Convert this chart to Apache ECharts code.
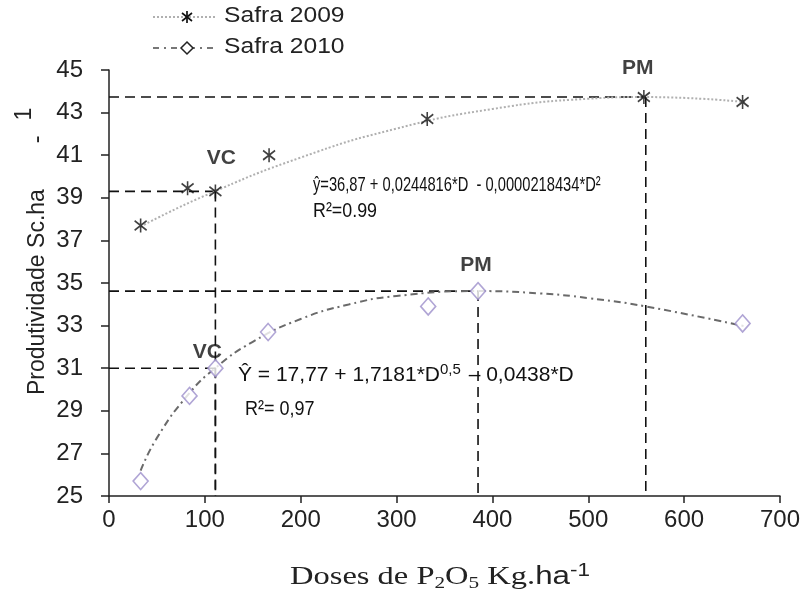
<!DOCTYPE html>
<html><head><meta charset="utf-8">
<script src="https://cdn.jsdelivr.net/npm/echarts@6/dist/echarts.min.js"></script>
<style>html,body{margin:0;padding:0;background:#fff}#c{width:803px;height:594px}</style>
</head><body><div id="c"></div>
<script>
var doses2009 = [33, 82, 111, 167, 332, 558, 661];
var safra2009 = [37.7, 39.45, 39.3, 41.0, 42.7, 43.73, 43.5];
var doses2010 = [33, 84, 111, 166, 333, 385, 661];
var safra2010 = [25.7, 29.7, 31.0, 32.7, 33.9, 34.62, 33.1];
// Fitted curves
var trendX2009 = [33, 100, 200, 300, 400, 500, 560, 665];
var trendY2009 = [37.65, 39.10, 40.89, 42.25, 43.17, 43.65, 43.73, 43.49];
var trendX2010 = [33, 50, 83, 111, 150, 200, 250, 300, 385, 450, 500, 560, 665];
var trendY2010 = [26.19, 27.73, 29.78, 31.01, 32.24, 33.31, 33.99, 34.39, 34.62, 34.51, 34.29, 33.90, 32.95];
// Reference points (PM = maximum, VC = critical level)
var pm2009 = [560, 43.73];
var vc2009 = [111, 39.3];
var pm2010 = [385, 34.62];
var vc2010 = [111, 31.0];
var xTicks = [0, 100, 200, 300, 400, 500, 600, 700];
var yTicks = [25, 27, 29, 31, 33, 35, 37, 39, 41, 43, 45];
var legendNames = ['Safra 2009', 'Safra 2010'];

function zip(a, b) { return a.map(function (v, i) { return [v, b[i]]; }); }
var yMin = yTicks[0];
function refLines(p) {
  return [
    { type: 'line', data: [[0, p[1]], [p[0], p[1]]], symbol: 'none', silent: true,
      lineStyle: { color: '#111', width: 1.6, type: [10, 6] }, z: 1 },
    { type: 'line', data: [[p[0], p[1]], [p[0], yMin]], symbol: 'none', silent: true,
      lineStyle: { color: '#111', width: 1.6, type: [10, 6] }, z: 1 }
  ];
}
var star = 'path://M0,-6L0,6M-5,-4L5,4M-5,4L5,-4';
var series = [];
series = series.concat(refLines(pm2009), refLines(vc2009), refLines(pm2010), refLines(vc2010));
series.push({ type: 'line', data: zip(trendX2009, trendY2009), smooth: true, symbol: 'none',
  lineStyle: { color: '#b0b0b0', width: 2, type: [2, 2] }, z: 2 });
series.push({ type: 'line', data: zip(trendX2010, trendY2010), smooth: true, symbol: 'none',
  lineStyle: { color: '#6a6a6a', width: 2, type: [7, 4, 2, 4] }, z: 2 });
series.push({ type: 'scatter', name: legendNames[0], data: zip(doses2009, safra2009), symbol: star,
  symbolSize: [12, 14], itemStyle: { color: 'none', borderColor: '#111', borderWidth: 1.7 }, z: 5 });
series.push({ type: 'scatter', name: legendNames[1], data: zip(doses2010, safra2010), symbol: 'diamond',
  symbolSize: [15, 17], itemStyle: { color: '#fff', borderColor: '#9c8fca', borderWidth: 1.6 }, z: 5 });
var lblStyle = { show: true, fontFamily: 'Liberation Sans', fontWeight: 'bold', fontSize: 21, color: '#111' };
series.push({ type: 'scatter', symbol: 'circle', symbolSize: 0, silent: true, z: 6,
  itemStyle: { color: 'rgba(0,0,0,0)' }, data: [
  { value: pm2009, label: Object.assign({}, lblStyle, { formatter: 'PM', position: 'top', offset: [-8, -13] }) },
  { value: vc2009, label: Object.assign({}, lblStyle, { formatter: 'VC', position: 'top', offset: [6, -18] }) },
  { value: pm2010, label: Object.assign({}, lblStyle, { formatter: 'PM', position: 'top', offset: [-2, -10] }) },
  { value: vc2010, label: Object.assign({}, lblStyle, { formatter: 'VC', position: 'top', offset: [-8, 0] }) }
]});

var chart = echarts.init(document.getElementById('c'));
var axisFont = { fontFamily: 'Liberation Sans', fontSize: 24, color: '#222' };
chart.setOption({
  animation: false,
  grid: { left: 109, right: 22, top: 70, bottom: 98 },
  xAxis: { type: 'value', min: xTicks[0], max: xTicks[xTicks.length - 1], interval: 100,
    splitLine: { show: false },
    axisLine: { lineStyle: { color: '#222', width: 1.5 } },
    axisTick: { show: true, length: 7, lineStyle: { color: '#222', width: 1.5 } },
    axisLabel: Object.assign({ margin: 12 }, axisFont) },
  yAxis: { type: 'value', min: yTicks[0], max: yTicks[yTicks.length - 1], interval: 2,
    splitLine: { show: false },
    axisLine: { show: true, lineStyle: { color: '#222', width: 1.5 } },
    axisTick: { show: true, length: 8, lineStyle: { color: '#222', width: 1.5 } },
    axisLabel: Object.assign({ margin: 26 }, axisFont) },
  series: series,
  graphic: [
    // legend
    { type: 'line', shape: { x1: 153, y1: 17, x2: 215, y2: 17 }, style: { stroke: '#b0b0b0', lineWidth: 2, lineDash: [2, 2] } },
    { type: 'line', shape: { x1: 187, y1: 11, x2: 187, y2: 23 }, style: { stroke: '#111', lineWidth: 1.7 } },
    { type: 'line', shape: { x1: 182, y1: 13, x2: 192, y2: 21 }, style: { stroke: '#111', lineWidth: 1.7 } },
    { type: 'line', shape: { x1: 182, y1: 21, x2: 192, y2: 13 }, style: { stroke: '#111', lineWidth: 1.7 } },
    { type: 'text', x: 224, y: 5, scaleX: 1.12, style: { text: legendNames[0], font: '22px "Liberation Sans"', fill: '#222' } },
    { type: 'line', shape: { x1: 153, y1: 48, x2: 215, y2: 48 }, style: { stroke: '#777', lineWidth: 2, lineDash: [6, 5, 2, 5] } },
    { type: 'polygon', shape: { points: [[187, 42], [193, 48], [187, 54], [181, 48]] }, style: { fill: '#fff', stroke: '#222', lineWidth: 1.5 } },
    { type: 'text', x: 224, y: 36, scaleX: 1.12, style: { text: legendNames[1], font: '22px "Liberation Sans"', fill: '#222' } },
    // equations
    { type: 'text', x: 313, y: 175, scaleX: 0.7, style: { text: 'ŷ=36,87 + 0,0244816*D  - 0,0000218434*D²', font: '21px "Liberation Sans"', fill: '#111' } },
    { type: 'text', x: 313, y: 201, scaleX: 0.85, style: { text: 'R²=0.99', font: '21px "Liberation Sans"', fill: '#111' } },
    { type: 'text', x: 238, y: 362, style: { text: 'Ŷ = 17,77 + 1,7181*D{sup|0,5} – 0,0438*D', font: '21px "Liberation Sans"', fill: '#111',
      rich: { sup: { fontSize: 15, fontFamily: 'Liberation Sans', verticalAlign: 'top', padding: [0, 2, 12, 0] } } } },
    { type: 'text', x: 245, y: 399, scaleX: 0.9, style: { text: 'R²= 0,97', font: '20px "Liberation Sans"', fill: '#111' } },
    // axis titles
    { type: 'text', x: 13, y: 395, rotation: Math.PI / 2,
      style: { text: 'Produtividade Sc.ha{dash|-}{sup|1}', font: '23px "Liberation Sans"', fill: '#222',
        rich: { dash: { fontSize: 23, fontFamily: 'Liberation Sans', padding: [0, 15, 0, 46] },
                sup: { fontSize: 23, fontFamily: 'Liberation Sans', verticalAlign: 'top', padding: [0, 0, 26, 0] } } } },
    { type: 'text', x: 440, y: 577, scaleX: 1.25,
      style: { text: 'Doses de P{sub|2}O{sub|5} Kg.{sans|ha}{sup|-1}', font: '26px "Liberation Serif"', fill: '#222',
        align: 'center', verticalAlign: 'middle',
        rich: { sub: { fontSize: 17, fontFamily: 'Liberation Serif', verticalAlign: 'bottom', padding: [8, 0, 0, 0] },
                sans: { fontSize: 25, fontFamily: 'Liberation Sans' },
                sup: { fontSize: 18, fontFamily: 'Liberation Sans', verticalAlign: 'top', padding: [0, 0, 12, 0] } } } }
  ]
});
</script></body></html>
